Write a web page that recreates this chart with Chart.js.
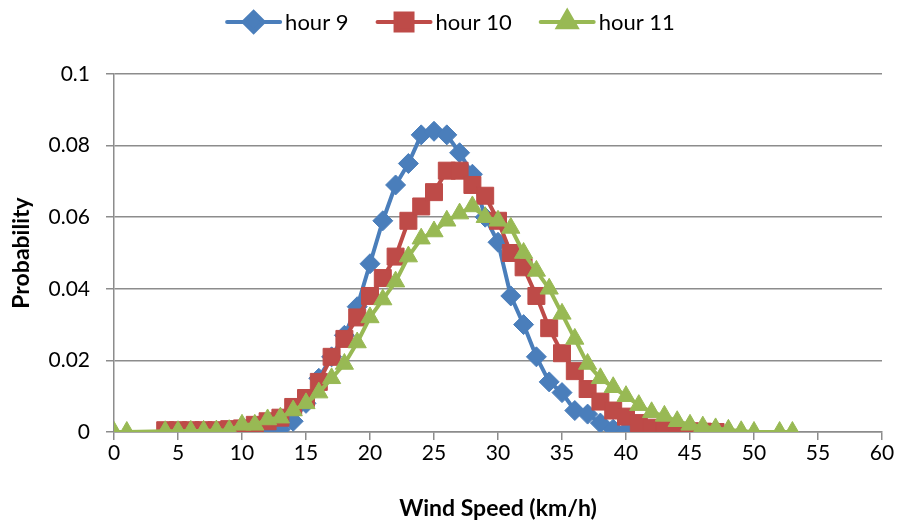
<!DOCTYPE html>
<html>
<head>
<meta charset="utf-8">
<script src="https://cdn.jsdelivr.net/npm/chart.js@4.4.1/dist/chart.umd.min.js"></script>
<style>
  html, body { margin: 0; background: #fff; }
  #wrap { width: 900px; height: 524px; }
</style>
</head>
<body>
<div id="wrap"><canvas id="windChart" width="900" height="524"></canvas></div>
<script>
// wind speed bins (km/h) and probability per hour
const speed9 = [4, 5, 6, 7, 8, 9, 10, 11, 12, 13, 14, 15, 16, 17, 18, 19, 20, 21, 22, 23,
  24, 25, 26, 27, 28, 29, 30, 31, 32, 33, 34, 35, 36, 37, 38, 39, 40, 41, 42];
const prob9 = [0, 0, 0, 0, 0, 0, 0.0001, 0.0001, 0.0002, 0.0008, 0.003, 0.008, 0.015, 0.021, 0.027, 0.035, 0.047, 0.059, 0.069, 0.075,
  0.083, 0.084, 0.083, 0.078, 0.072, 0.060, 0.053, 0.038, 0.030, 0.021, 0.014, 0.011, 0.006, 0.005, 0.0025, 0.0008, 0.0002, 0, 0];

const speed10 = [4, 5, 6, 7, 8, 9, 10, 11, 12, 13, 14, 15, 16, 17, 18, 19, 20, 21, 22, 23,
  24, 25, 26, 27, 28, 29, 30, 31, 32, 33, 34, 35, 36, 37, 38, 39, 40, 41, 42, 43, 44, 45, 46, 47];
const prob10 = [0.0005, 0.0005, 0.0005, 0.0005, 0.0005, 0.0008, 0.001, 0.002, 0.003, 0.004, 0.007, 0.0095, 0.014, 0.021, 0.026, 0.032, 0.038, 0.043, 0.049, 0.059,
  0.063, 0.067, 0.073, 0.073, 0.069, 0.066, 0.059, 0.050, 0.046, 0.038, 0.029, 0.022, 0.017, 0.012, 0.0085, 0.006, 0.0043, 0.0025, 0.0012, 0.0006, 0.0003, 0.0002, 0.0001, 0];

const speed11 = [0, 1, 4, 5, 6, 7, 8, 9, 10, 11, 12, 13, 14, 15, 16, 17, 18, 19, 20, 21, 22, 23,
  24, 25, 26, 27, 28, 29, 30, 31, 32, 33, 34, 35, 36, 37, 38, 39, 40, 41, 42, 43, 44, 45, 46, 47, 48, 49, 50, 52, 53];
const prob11 = [0, 0, 0.0002, 0.0002, 0.0003, 0.0003, 0.0004, 0.0005, 0.002, 0.002, 0.0035, 0.004, 0.006, 0.008, 0.011, 0.015, 0.019, 0.025, 0.032, 0.037, 0.042, 0.049,
  0.054, 0.056, 0.059, 0.061, 0.063, 0.060, 0.059, 0.057, 0.050, 0.045, 0.040, 0.033, 0.026, 0.019, 0.015, 0.0125, 0.010, 0.0075, 0.0055, 0.0045, 0.003, 0.002, 0.0015, 0.001, 0.0006, 0.0002, 0, 0, 0];

const seriesNames = ['hour 9', 'hour 10', 'hour 11'];
const xTickLabels = ['0', '5', '10', '15', '20', '25', '30', '35', '40', '45', '50', '55', '60'];
const yTickLabels = ['0', '0.02', '0.04', '0.06', '0.08', '0.1'];

const BLUE = '#4A7EBB';
const RED = '#BE4B48';
const GREEN = '#98B954';
const AXIS_GREY = '#8C8C8C';
const FONT = 'Lato';

function toPoints(xs, ys) {
  return xs.map((x, i) => ({ x: x, y: ys[i] }));
}

function series(label, xs, ys, color, style, radius, order) {
  return {
    label: label,
    data: toPoints(xs, ys),
    showLine: true,
    borderColor: color,
    backgroundColor: color,
    borderWidth: 4,
    borderJoinStyle: 'round',
    borderCapStyle: 'round',
    pointStyle: style,
    pointRadius: radius,
    pointHoverRadius: radius,
    pointBackgroundColor: color,
    pointBorderColor: color,
    pointBorderWidth: 1,
    order: order
  };
}

// legend drawn as a line with the marker on it, like an office chart
const lineLegend = {
  id: 'lineLegend',
  afterDraw(chart) {
    const ctx = chart.ctx;
    const items = chart.data.datasets;
    const iconW = 57, gapIn = 3, gapOut = 27, cy = 22;
    ctx.save();
    ctx.font = '22px ' + FONT;
    ctx.textBaseline = 'middle';
    const widths = items.map(d => ctx.measureText(d.label).width);
    let total = gapOut * (items.length - 1);
    widths.forEach(w => { total += iconW + gapIn + w; });
    let x = (chart.width - total) / 2;
    items.forEach((d, i) => {
      ctx.strokeStyle = d.borderColor;
      ctx.lineWidth = d.borderWidth;
      ctx.lineCap = 'round';
      ctx.beginPath();
      ctx.moveTo(x + 2, cy);
      ctx.lineTo(x + iconW - 2, cy);
      ctx.stroke();
      ctx.fillStyle = d.pointBackgroundColor;
      ctx.strokeStyle = d.pointBorderColor;
      Chart.helpers.drawPoint(ctx, {
        pointStyle: d.pointStyle, radius: d.pointRadius, rotation: 0, borderWidth: 1
      }, x + iconW / 2, cy);
      ctx.fillStyle = '#000';
      ctx.fillText(d.label, x + iconW + gapIn, cy + 1);
      x += iconW + gapIn + widths[i] + gapOut;
    });
    ctx.restore();
  }
};

new Chart(document.getElementById('windChart'), {
  type: 'scatter',
  data: {
    datasets: [
      series(seriesNames[0], speed9, prob9, BLUE, 'rectRot', 10, 2),
      series(seriesNames[1], speed10, prob10, RED, 'rect', 12, 1),
      series(seriesNames[2], speed11, prob11, GREEN, 'triangle', 10.5, 0)
    ]
  },
  options: {
    responsive: false,
    animation: false,
    devicePixelRatio: 1,
    layout: { padding: { top: 74, right: 18, bottom: 0, left: 0 } },
    plugins: {
      legend: { display: false },
      tooltip: { enabled: false }
    },
    scales: {
      x: {
        type: 'linear',
        min: 0,
        max: 60,
        afterFit: s => { s.height = 92; },
        border: { color: AXIS_GREY, width: 1.5 },
        grid: { drawOnChartArea: false, drawTicks: true, tickLength: 8, color: AXIS_GREY, lineWidth: 1.5 },
        ticks: {
          stepSize: 5,
          padding: 1,
          color: '#000',
          font: { family: FONT, size: 21 },
          maxRotation: 0,
          callback: v => xTickLabels[Math.round(v / 5)]
        },
        title: {
          display: true,
          text: 'Wind Speed (km/h)',
          color: '#000',
          font: { family: FONT, size: 23, weight: 'bold' },
          padding: { top: 0, bottom: 2 }
        }
      },
      y: {
        type: 'linear',
        min: 0,
        max: 0.1,
        afterFit: s => { s.width = 114; },
        border: { color: AXIS_GREY, width: 1.5 },
        grid: { color: AXIS_GREY, lineWidth: 1.5, tickLength: 8 },
        ticks: {
          stepSize: 0.02,
          padding: 16,
          color: '#000',
          font: { family: FONT, size: 21 },
          callback: v => yTickLabels[Math.round(v * 50)]
        },
        title: {
          display: true,
          text: 'Probability',
          color: '#000',
          font: { family: FONT, size: 23, weight: 'bold' },
          padding: { top: 8, bottom: 0 }
        }
      }
    }
  },
  plugins: [lineLegend]
});
</script>
</body>
</html>
